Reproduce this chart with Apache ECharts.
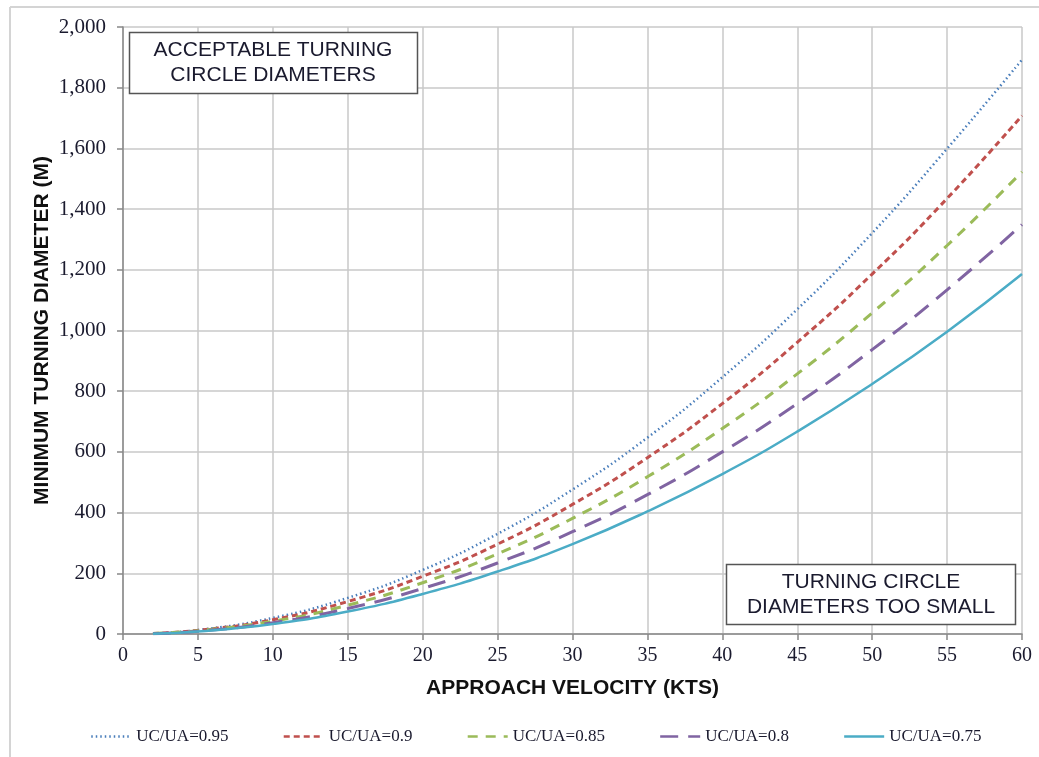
<!DOCTYPE html>
<html>
<head>
<meta charset="utf-8">
<script src="https://cdn.jsdelivr.net/npm/echarts@6/dist/echarts.min.js"></script>
<style>html,body{margin:0;padding:0;background:#fff}#c{width:1039px;height:757px}</style>
</head>
<body>
<div id="c"></div>
<script>
var velocity = [2, 5, 10, 15, 20, 25, 30, 35, 40, 45, 50, 55, 60];
var r095 = [2, 13, 53, 119, 211, 330, 476, 647, 846, 1070, 1321, 1599, 1892];
var r090 = [2, 12, 47, 107, 190, 296, 427, 581, 759, 961, 1186, 1435, 1708];
var r085 = [2, 11, 42, 95, 169, 264, 381, 518, 677, 857, 1058, 1280, 1523];
var r080 = [1, 9, 37, 84, 150, 234, 337, 459, 600, 759, 937, 1134, 1349];
var r075 = [1, 8, 33, 74, 132, 206, 296, 404, 527, 667, 824, 996, 1186];
var seriesNames = ['UC/UA=0.95', 'UC/UA=0.9', 'UC/UA=0.85', 'UC/UA=0.8', 'UC/UA=0.75'];
var colors = ['#4a7ebb', '#c0504d', '#9bbb59', '#8064a2', '#4bacc6'];
var boxTop = ['ACCEPTABLE TURNING', 'CIRCLE DIAMETERS'];
var boxBottom = ['TURNING CIRCLE', 'DIAMETERS TOO SMALL'];

function pairs(ys) { return velocity.map(function (v, i) { return [v, ys[i]]; }); }
var dataSets = [r095, r090, r085, r080, r075];
var lineTypes = [[1.5, 3], [6, 4], [10, 8], [18, 10], 'solid'];
var widths = [2.5, 3, 3, 3, 2.5];

var chart = echarts.init(document.getElementById('c'));
var serif = 'Liberation Serif';
var sans = 'Liberation Sans';
chart.setOption({
  animation: false,
  backgroundColor: '#fff',
  grid: { left: 123, right: 17, top: 27, bottom: 123, containLabel: false },
  xAxis: {
    type: 'value', min: 0, max: 60, interval: 5,
    name: 'APPROACH VELOCITY (KTS)', nameLocation: 'middle', nameGap: 44,
    nameTextStyle: { fontFamily: sans, fontWeight: 'bold', fontSize: 21, color: '#111' },
    axisLine: { show: true, lineStyle: { color: '#888', width: 1.5 } },
    axisTick: { show: true, length: 6, lineStyle: { color: '#888', width: 1.5 } },
    axisLabel: { fontFamily: serif, fontSize: 20, color: '#1a1a2e', margin: 12 },
    splitLine: { show: true, lineStyle: { color: '#c8c8c8', width: 1.5 } }
  },
  yAxis: {
    type: 'value', min: 0, max: 2000, interval: 200,
    name: 'MINIMUM TURNING DIAMETER (M)', nameLocation: 'middle', nameGap: 70,
    nameMoveOverlap: false,
    nameTextStyle: { fontFamily: sans, fontWeight: 'bold', fontSize: 21, color: '#111' },
    axisLine: { show: true, lineStyle: { color: '#888', width: 1.5 } },
    axisTick: { show: true, length: 6, lineStyle: { color: '#888', width: 1.5 } },
    axisLabel: {
      fontFamily: serif, fontSize: 21, color: '#1a1a2e', margin: 17,
      formatter: function (v) { return v.toLocaleString('en-US'); }
    },
    splitLine: { show: true, lineStyle: { color: '#c8c8c8', width: 1.5 } }
  },
  legend: {
    bottom: 7, left: 85, itemWidth: 40, itemHeight: 14, itemGap: 54,
    itemStyle: { opacity: 0, borderWidth: 0 },
    lineStyle: { width: 2.5 },
    textStyle: { fontFamily: serif, fontSize: 17, color: '#1a1a2e' },
    data: seriesNames
  },
  series: dataSets.map(function (d, i) {
    return {
      name: seriesNames[i], type: 'line', smooth: true, symbol: 'none',
      data: pairs(d), color: colors[i],
      lineStyle: { color: colors[i], width: widths[i], type: lineTypes[i] }
    };
  }),
  graphic: [
    { type: 'line', shape: { x1: 10, y1: 7, x2: 1039, y2: 7 }, style: { stroke: '#d4d4d4', lineWidth: 2 } },
    { type: 'line', shape: { x1: 10, y1: 7, x2: 10, y2: 757 }, style: { stroke: '#d4d4d4', lineWidth: 2 } },
    { type: 'rect', shape: { x: 129.5, y: 32.5, width: 288, height: 61 }, style: { fill: '#fff', stroke: '#555', lineWidth: 1.5 }, z: 10 },
    { type: 'text', x: 273, y: 63, z: 11, style: { text: boxTop.join('\n'), fontFamily: sans, fontSize: 21, fill: '#1a1a2e', align: 'center', verticalAlign: 'middle', lineHeight: 25 } },
    { type: 'rect', shape: { x: 726.5, y: 564.5, width: 289, height: 60 }, style: { fill: '#fff', stroke: '#555', lineWidth: 1.5 }, z: 10 },
    { type: 'text', x: 871, y: 595, z: 11, style: { text: boxBottom.join('\n'), fontFamily: sans, fontSize: 21, fill: '#1a1a2e', align: 'center', verticalAlign: 'middle', lineHeight: 25 } }
  ]
});
</script>
</body>
</html>
